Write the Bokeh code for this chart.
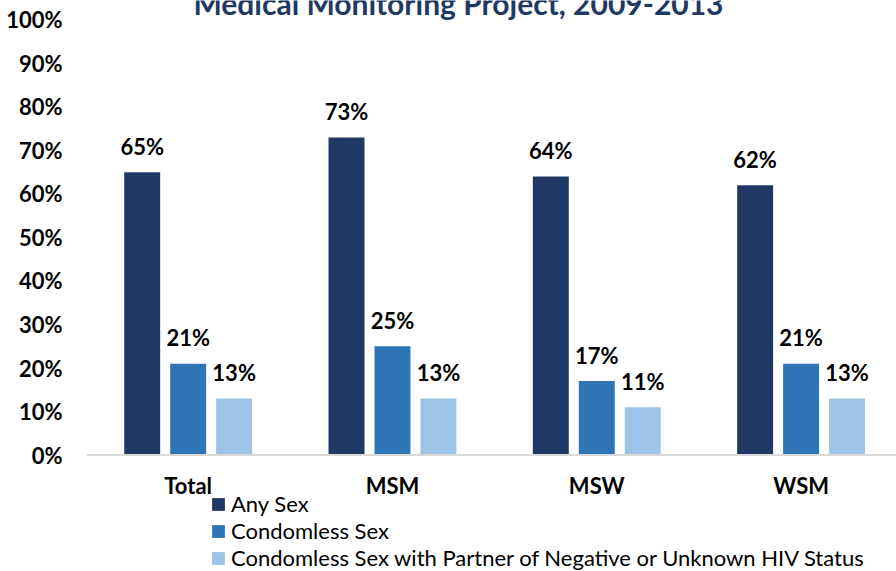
from bokeh.plotting import figure
from bokeh.models import (ColumnDataSource, Range1d, FixedTicker, PrintfTickFormatter,
                          Legend, LegendItem, Label, Span)
from bokeh.transform import dodge
from bokeh.core.properties import value
from bokeh.embed import file_html
from bokeh.resources import INLINE

categories = ["Total", "MSM", "MSW", "WSM"]
any_sex = [65, 73, 64, 62]
condomless = [21, 25, 17, 21]
condomless_neg = [13, 13, 11, 13]
series_names = ["Any Sex", "Condomless Sex",
                "Condomless Sex with Partner of Negative or Unknown HIV Status"]
colors = ["#1F3864", "#2E75B6", "#9DC3E6"]
y_ticks = [0, 10, 20, 30, 40, 50, 60, 70, 80, 90, 100]
title_text = "Medical Monitoring Project, 2009-2013"

FONT = "Lato"

src = ColumnDataSource(dict(
    x=list(range(len(categories))),
    cat=categories,
    zero=[0] * len(categories),
    any_sex=any_sex, condomless=condomless, condomless_neg=condomless_neg,
    any_sex_lbl=[f"{v}%" for v in any_sex],
    condomless_lbl=[f"{v}%" for v in condomless],
    condomless_neg_lbl=[f"{v}%" for v in condomless_neg],
))

p = figure(width=896, height=571, output_backend="svg", toolbar_location=None,
           x_range=Range1d(-0.4976, 3.467), y_range=Range1d(-26.78, 104.48),
           min_border_left=86, min_border_right=0, min_border_top=0, min_border_bottom=0)
p.outline_line_color = None
p.xgrid.grid_line_color = None
p.ygrid.grid_line_color = None
p.background_fill_color = "white"
p.border_fill_color = "white"
p.xaxis.visible = False

# baseline (category axis line)
p.add_layout(Span(location=0, dimension="width", line_color="#D9D9D9", line_width=2))

offsets = [-0.225, 0.0, 0.225]
cols = ["any_sex", "condomless", "condomless_neg"]
renderers = []
for col, off, c in zip(cols, offsets, colors):
    r = p.vbar(x=dodge("x", off, range=p.x_range), top=col, width=0.176, bottom=0,
               source=src, fill_color=c, line_color=None)
    renderers.append(r)
    p.text(x=dodge("x", off, range=p.x_range), y=col, text=col + "_lbl", source=src,
           text_align="center", text_baseline="alphabetic", y_offset=-26,
           text_font=value(FONT), text_font_style="bold", text_font_size="22px",
           text_color="black")

# category labels
p.text(x="x", y="zero", text="cat", source=src, text_align="center",
       text_baseline="alphabetic", y_offset=30,
       text_font=value(FONT), text_font_style="bold", text_font_size="22px",
       text_color="black")

ya = p.yaxis[0]
ya.ticker = FixedTicker(ticks=y_ticks)
ya.formatter = PrintfTickFormatter(format="%d%%")
ya.axis_line_color = None
ya.major_tick_line_color = None
ya.minor_tick_line_color = None
ya.major_tick_out = 0
ya.minor_tick_out = 0
ya.major_label_standoff = 24
ya.major_label_text_font = FONT
ya.major_label_text_font_style = "bold"
ya.major_label_text_font_size = "22px"
ya.major_label_text_color = "black"

# title (cut at the top edge as in the reference)
p.add_layout(Label(x=1.323, y=103.8, text=title_text, text_align="center",
                   text_baseline="alphabetic", text_font=FONT, text_font_style="bold",
                   text_font_size="30px", text_color="#1F3864"))

legend = Legend(items=[LegendItem(label=n, renderers=[r]) for n, r in zip(series_names, renderers)],
                location=(124, 0), orientation="vertical",
                padding=0, margin=0, spacing=0,
                glyph_width=16, glyph_height=16, label_height=16, label_standoff=5,
                label_text_font=FONT, label_text_font_size="22px", label_text_color="black",
                border_line_color=None, background_fill_alpha=0)
p.add_layout(legend, "center")

open("out.html", "w").write(file_html(p, INLINE))
